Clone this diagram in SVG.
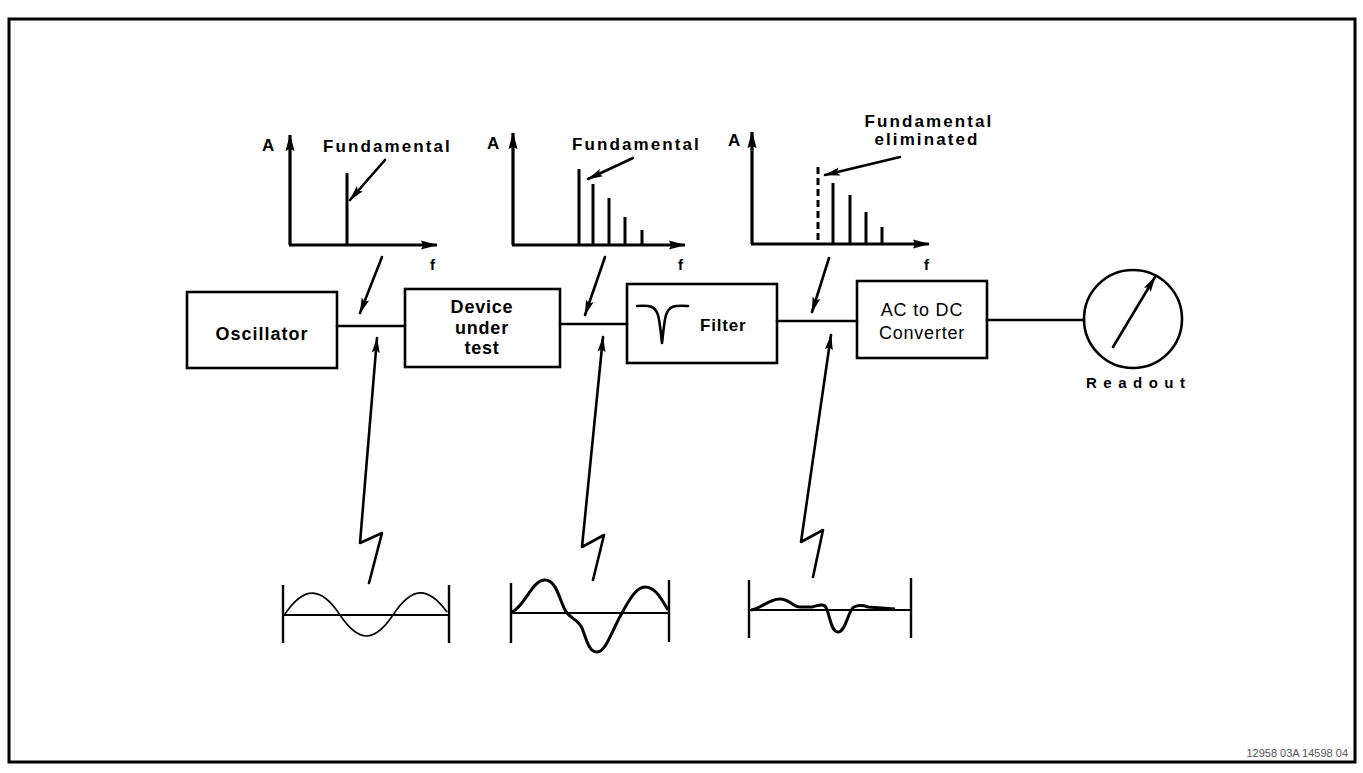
<svg xmlns="http://www.w3.org/2000/svg" width="1363" height="773" viewBox="0 0 1363 773">
<style>
.t{font-family:"Liberation Sans",Arial,sans-serif;font-weight:bold;fill:#000}
.lbl{font-size:17px;letter-spacing:2.1px}
.box{fill:#fff;stroke:#000;stroke-width:2.6}
.ln{fill:none;stroke:#000;stroke-width:2.6;stroke-linecap:round;stroke-linejoin:round}
.ax{fill:none;stroke:#000;stroke-width:3.2}
.sp{fill:none;stroke:#000;stroke-width:3}
.wv{fill:none;stroke:#000;stroke-width:3;stroke-linejoin:round}
</style>
<defs>
<marker id="ah" markerUnits="userSpaceOnUse" markerWidth="18" markerHeight="10" refX="15" refY="5" orient="auto">
<path d="M0,1 L16,5 L0,9 L3,5 z" fill="#000"/>
</marker>
<marker id="axh" markerUnits="userSpaceOnUse" markerWidth="18" markerHeight="10" refX="16" refY="5" orient="auto">
<path d="M0,0.5 L17,5 L0,9.5 L2,5 z" fill="#000"/>
</marker>
</defs>
<rect width="1363" height="773" fill="#fff"/>
<rect x="9" y="19" width="1346" height="743" fill="none" stroke="#000" stroke-width="3"/>

<g id="chart1">
<line class="ax" x1="290" y1="245" x2="290" y2="135" marker-end="url(#axh)"/>
<line class="ax" x1="289" y1="245" x2="437" y2="245" marker-end="url(#axh)"/>
<line class="sp" x1="347" y1="173" x2="347" y2="245"/>
<line class="ln" x1="385" y1="160" x2="350" y2="200" marker-end="url(#ah)"/>
<text class="t" x="262" y="151" font-size="17">A</text>
<text class="t lbl" x="323" y="152">Fundamental</text>
<text class="t" x="430" y="270" font-size="15">f</text>
</g>

<g id="chart2">
<line class="ax" x1="513" y1="245" x2="513" y2="133" marker-end="url(#axh)"/>
<line class="ax" x1="512" y1="245" x2="685" y2="245" marker-end="url(#axh)"/>
<line class="sp" x1="579" y1="169" x2="579" y2="245"/>
<line class="sp" x1="593" y1="184" x2="593" y2="245"/>
<line class="sp" x1="609" y1="198" x2="609" y2="245"/>
<line class="sp" x1="625" y1="217" x2="625" y2="245"/>
<line class="sp" x1="642" y1="230" x2="642" y2="245"/>
<line class="ln" x1="633" y1="158" x2="588" y2="179" marker-end="url(#ah)"/>
<text class="t" x="487" y="149" font-size="17">A</text>
<text class="t lbl" x="572" y="150">Fundamental</text>
<text class="t" x="678" y="270" font-size="15">f</text>
</g>

<g id="chart3">
<line class="ax" x1="752" y1="244" x2="752" y2="132" marker-end="url(#axh)"/>
<line class="ax" x1="751" y1="244" x2="929" y2="244" marker-end="url(#axh)"/>
<line class="sp" x1="818" y1="167" x2="818" y2="244" stroke-dasharray="7,4"/>
<line class="sp" x1="833" y1="183" x2="833" y2="244"/>
<line class="sp" x1="850" y1="195" x2="850" y2="244"/>
<line class="sp" x1="866" y1="212" x2="866" y2="244"/>
<line class="sp" x1="882" y1="227" x2="882" y2="244"/>
<line class="ln" x1="900" y1="157" x2="825" y2="175" marker-end="url(#ah)"/>
<text class="t" x="728" y="146" font-size="17">A</text>
<text class="t lbl" x="929" y="127" text-anchor="middle">Fundamental</text>
<text class="t lbl" x="927" y="145" text-anchor="middle">eliminated</text>
<text class="t" x="924" y="270" font-size="15">f</text>
</g>

<g id="oscillator">
<rect class="box" x="187" y="292" width="150" height="76"/>
<text class="t" x="262" y="340" font-size="18" letter-spacing="1" text-anchor="middle">Oscillator</text>
</g>
<g id="dut">
<rect class="box" x="405" y="289" width="155" height="78"/>
<text class="t" x="482" y="313" font-size="18" letter-spacing="0.8" text-anchor="middle">Device</text>
<text class="t" x="482" y="334" font-size="18" letter-spacing="0.8" text-anchor="middle">under</text>
<text class="t" x="482" y="354" font-size="18" letter-spacing="0.8" text-anchor="middle">test</text>
</g>
<g id="filter">
<rect class="box" x="627" y="284" width="150" height="79"/>
<path class="ln" d="M637,306 C650,305 655,306 658,315 C660,322 661,335 662,343 C663,335 664,322 666,315 C669,306 674,305 688,306"/>
<text class="t" x="700" y="331" font-size="17" letter-spacing="0.8">Filter</text>
</g>
<g id="acdc">
<rect class="box" x="857" y="281" width="130" height="77"/>
<text class="t" x="922" y="316" font-size="18" letter-spacing="0.8" text-anchor="middle" style="font-weight:normal">AC to DC</text>
<text class="t" x="922" y="339" font-size="18" letter-spacing="0.8" text-anchor="middle" style="font-weight:normal">Converter</text>
</g>
<g id="readout">
<circle cx="1133" cy="319" r="49" fill="#fff" stroke="#000" stroke-width="2.6"/>
<line class="ln" x1="1113" y1="347" x2="1155" y2="277" marker-end="url(#ah)"/>
<text class="t" x="1086" y="388" font-size="15" letter-spacing="6.5">Readout</text>
</g>

<g id="connectors">
<line class="ln" x1="337" y1="326" x2="405" y2="326"/>
<line class="ln" x1="560" y1="324" x2="627" y2="324"/>
<line class="ln" x1="777" y1="321" x2="857" y2="321"/>
<line class="ln" x1="987" y1="320" x2="1084" y2="320"/>
<line class="ln" x1="382" y1="257" x2="360" y2="313" marker-end="url(#ah)"/>
<line class="ln" x1="605" y1="257" x2="585" y2="315" marker-end="url(#ah)"/>
<line class="ln" x1="829" y1="258" x2="812" y2="312" marker-end="url(#ah)"/>
<path class="ln" d="M369,583 L382,533 L360,543 L377,338" marker-end="url(#ah)"/>
<path class="ln" d="M593,580 L604,535 L582,547 L603,337" marker-end="url(#ah)"/>
<path class="ln" d="M813,577 L823,530 L801,542 L831,335" marker-end="url(#ah)"/>
</g>

<g id="wave1">
<line x1="283" y1="585" x2="283" y2="643" stroke="#000" stroke-width="2.4"/>
<line x1="449" y1="585" x2="449" y2="643" stroke="#000" stroke-width="2.4"/>
<line x1="283" y1="615" x2="449" y2="615" stroke="#000" stroke-width="1.8"/>
<path d="M285,614 C304,586 321,586 340,615 C359,643 374,643 393,615 C412,586 428,586 447,612" fill="none" stroke="#000" stroke-width="1.6"/>
</g>
<g id="wave2">
<line x1="511" y1="583" x2="511" y2="643" stroke="#000" stroke-width="2.4"/>
<line x1="669" y1="580" x2="669" y2="642" stroke="#000" stroke-width="2.4"/>
<line x1="511" y1="613" x2="669" y2="613" stroke="#000" stroke-width="1.8"/>
<path class="wv" d="M512,612 C525,606 532,580 545,580 C558,580 560,605 567,613 C572,619 578,620 582,628 C588,645 590,652 597,652 C606,652 612,630 622,613 C630,598 637,587 645,587 C656,587 662,600 668,610"/>
</g>
<g id="wave3">
<line x1="749" y1="580" x2="749" y2="638" stroke="#000" stroke-width="2.4"/>
<line x1="911" y1="578" x2="911" y2="638" stroke="#000" stroke-width="2.4"/>
<line x1="749" y1="610" x2="911" y2="610" stroke="#000" stroke-width="1.8"/>
<path class="wv" d="M751,610 C761,609 768,599 780,599 C790,599 792,607 800,607 L812,607 C818,606 821,603 825,606 C830,612 830,632 838,632 C846,632 848,610 854,607 C858,605 862,605 868,607 L895,609"/>
</g>

<text x="1348" y="757" font-family="'Liberation Sans',Arial,sans-serif" font-size="11" fill="#555" text-anchor="end">12958 03A 14598 04</text>
</svg>
